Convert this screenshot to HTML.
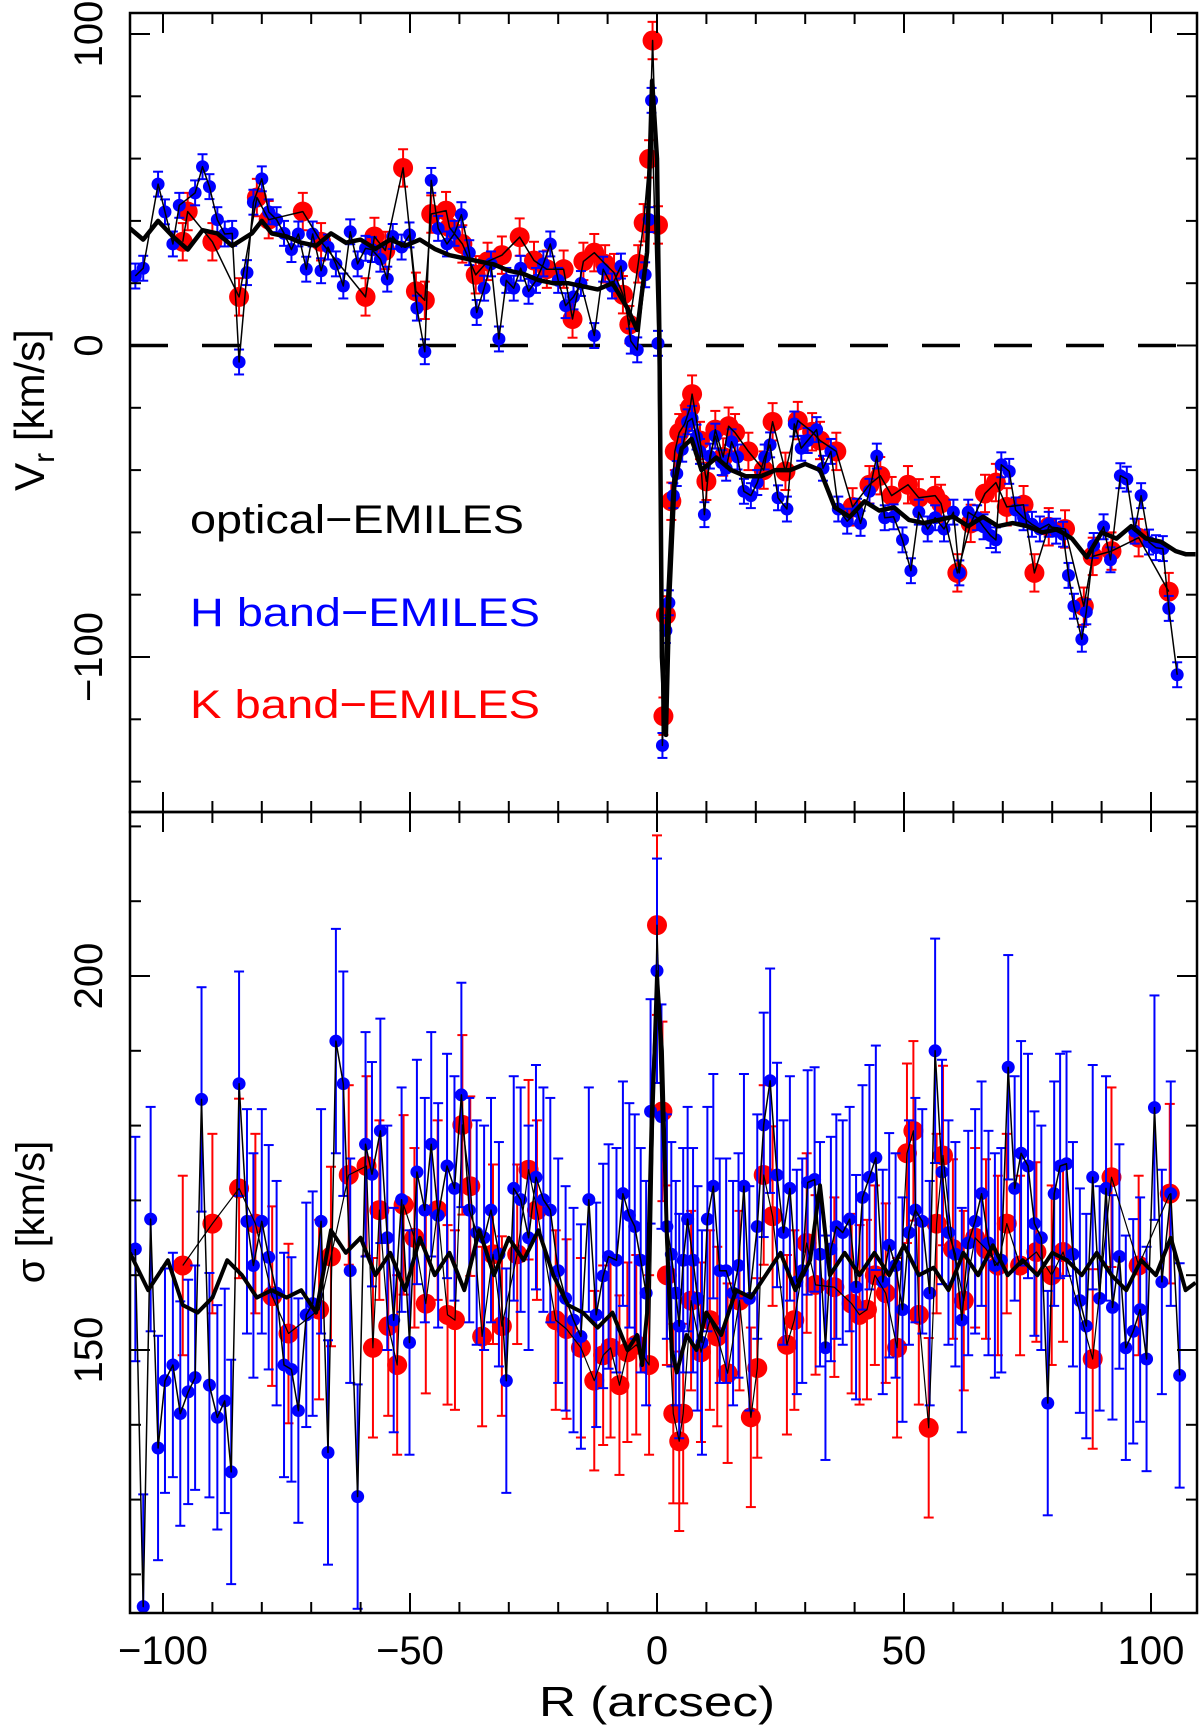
<!DOCTYPE html>
<html><head><meta charset="utf-8"><style>
html,body{margin:0;padding:0;background:#fff;}
svg{display:block;font-family:"Liberation Sans",sans-serif;}
</style></head><body>
<svg id="chart" width="1200" height="1728" viewBox="0 0 1200 1728" xmlns="http://www.w3.org/2000/svg">
<defs>
<clipPath id="clipTop"><rect x="130" y="13" width="1067" height="799"/></clipPath>
<clipPath id="clipBot"><rect x="130" y="812" width="1067" height="801"/></clipPath>
</defs>
<g id="gtop" clip-path="url(#clipTop)"></g>
<g id="gbot" clip-path="url(#clipBot)"></g>
<g id="axes"></g>
<text x="190" y="533" font-size="40" fill="#000" textLength="334" lengthAdjust="spacingAndGlyphs">optical−EMILES</text>
<text x="190" y="626" font-size="40" fill="#0000ff" textLength="350" lengthAdjust="spacingAndGlyphs">H band−EMILES</text>
<text x="190" y="718" font-size="40" fill="#ff0000" textLength="350" lengthAdjust="spacingAndGlyphs">K band−EMILES</text>
<text x="657" y="1716" font-size="42" text-anchor="middle" textLength="236" lengthAdjust="spacingAndGlyphs">R (arcsec)</text>
<text transform="translate(44,410) rotate(-90)" font-size="42" text-anchor="middle">V<tspan font-size="30" dy="10">r</tspan><tspan dy="-10"> [km/s]</tspan></text>
<text transform="translate(44,1212) rotate(-90)" font-size="40" text-anchor="middle">σ [km/s]</text>
</svg>
<script>
// ---- data (R in arcsec) ----
const hR_V=[-105.6,-104,-101,-99.6,-98,-96.7,-93.5,-92,-90.6,-89,-87.5,-86,-84.6,-83,-81.7,-80,-78.6,-77,-75.5,-74,-72.6,-71,-69.7,-68,-66.6,-65,-63.5,-62.1,-60.6,-59,-57.7,-56,-54.6,-53.5,-51.7,-50.1,-48.6,-47,-45.7,-44.3,-42.5,-41,-39.6,-38,-36.5,-35,-33.6,-32,-30.5,-29,-27.6,-26,-24.5,-23,-21.6,-20,-18.5,-16.9,-15.4,-12.7,-10.9,-9.1,-7.3,-5.3,-4,-2.4,-1.6,-1.1,0.2,1.1,1.8,2.4,3.3,4,5.1,6.2,7.1,8,8.7,9.6,10.7,11.8,13.1,14,15.1,16.3,17.6,19,20.3,21.8,22.9,24.5,26.3,27.8,29.2,30.5,32.3,33.6,35.2,36.7,38.5,40.5,41.2,43,44.5,46.1,47.9,49.7,51.4,53,54.8,56.3,58.1,60,61.2,63,64.8,66.1,67.5,68.6,69.7,71.3,72.6,74.2,75.9,77.5,79.3,80.8,82.2,83.3,84.4,86,86.9,88.4,90.4,91.8,93.8,95.1,96.7,98,99.6,101,102.4,103.6,105.3];
const hV=[22.3,24.8,51.8,42.9,32.6,45,49,57.4,51,40.4,35.8,36,-5.3,23.4,46,53.5,42.9,40.4,36,30.8,35.8,24.5,35.8,24,31.6,26.2,19.1,36.5,26.2,31.2,30.8,27.7,21.3,35,31.6,35.5,12,-2,53,37.6,32.6,36,42,29.8,10.6,18.4,26.2,2.1,20.9,18.4,24.8,17.4,20.9,26.2,32.6,20.9,12.8,15.6,19.9,3.2,24.5,19.1,25.5,1.4,-1.4,22.7,40.4,78.7,0.7,-128.4,-91.5,-82.6,-48.2,-41.1,-33.3,-24.5,-23.4,-29.4,-34,-54.3,-35.5,-29.1,-37.6,-39.4,-30.9,-35.8,-46.8,-48.2,-44,-35.8,-31.9,-48.9,-52.5,-25.2,-33,-30.5,-27,-39.4,-34,-52.5,-56.4,-53.2,-57.1,-46.8,-35.5,-55.3,-55,-62.4,-72.3,-53.5,-58.9,-55.3,-58.9,-53.5,-73,-53.5,-55.3,-58.2,-61,-62.4,-38.3,-40.4,-52.8,-55.3,-57.4,-58.9,-57.4,-59.6,-60.6,-73.8,-83.7,-94.3,-85.5,-64.2,-58.2,-68.8,-41.8,-42.9,-59.6,-48.2,-63.1,-64.9,-65.2,-84.4,-105.7];
const kR_V=[-96,-95,-90,-84.6,-81,-78.6,-71.7,-68,-59,-57.2,-55,-51.4,-48.8,-47,-45.7,-42.7,-42,-39.4,-36.7,-34.3,-31.4,-27.8,-24.9,-22.3,-18.9,-17.1,-14.9,-12.7,-10.5,-8.7,-6.9,-5.6,-3.8,-2.7,-1.6,-0.9,0.2,1.3,1.8,2.9,3.6,4.5,5.6,6.7,7.1,8.7,10,11.8,13.4,14.5,15.8,18.5,21.6,23.4,26,28.5,31.4,33,36.3,39.6,43,45.2,47.5,50.8,53,56.3,57.5,60.8,63.5,66.4,68.6,70.8,74.2,76.4,79.3,82.6,86.4,88.2,92,97.5,103.6];
const kV=[33.3,43,33.3,15.6,47.5,40.4,43,33.3,15.6,35,30.5,57,17.4,14.5,42.2,43.3,37.9,32.6,22.7,27,29,34.8,27.3,24.5,24.5,8.5,27,29.8,26.2,23.4,16.3,6.7,26.2,39.4,59.9,97.9,38.7,-119,-86.5,-50,-34,-28,-25.2,-19.9,-15.6,-30.5,-43.6,-27,-35.8,-25.9,-28,-34,-40,-24.5,-40.4,-24.1,-27.7,-30.5,-34,-51.8,-44.7,-41.8,-48.2,-44.7,-48.9,-48.2,-50.7,-73,-57.1,-47.5,-44,-51.8,-51.1,-73,-58.2,-58.9,-83.7,-67.7,-66,-61.7,-79];
const oR_V=[-106.7,-104,-101,-98,-95,-92,-89,-86,-84,-82,-80,-78,-75,-72,-69,-66,-63,-60,-57,-54,-51,-48,-45,-42,-39,-36,-33,-30,-27,-24,-21,-18,-15,-12,-9,-6,-4,-2,-1,0,0.5,1,1.8,2.5,3.5,5,7,9,12,15,18,21,24,27,30,33,36,39,42,45,48,51,54,57,60,63,66,69,72,75,78,81,84,87,90,93,96,99,102,105,107,109];
const oV=[37.6,34,40,35,30.8,37,36,32,34,36,40,36,35,33,32,36,33,34,31,34,32,34,31,29,28,27,26,24,23,21,20,20,19,18,20,12,5,30,85,60,0,-100,-125,-80,-45,-33,-30,-40,-36,-40,-42,-42,-40,-40,-38,-40,-52,-55,-50,-53,-52,-56,-57,-56,-55,-58,-55,-58,-57,-58,-60,-59,-62,-68,-60,-62,-58,-62,-63,-66,-67,-67];
const errHV=[4];const errKV=[6];
const hR_S=[-105.6,-104,-102.5,-101,-99.6,-98,-96.5,-94.9,-93.5,-92.2,-90.6,-89,-87.5,-86.2,-84.6,-83,-81.7,-80,-78.6,-77,-75.5,-74,-72.6,-71,-69.7,-68,-66.6,-65,-63.5,-62.1,-60.6,-59,-57.7,-56,-54.6,-53.3,-51.7,-50.1,-48.6,-47,-45.7,-44.3,-42.5,-41,-39.6,-38,-36.5,-35,-33.6,-32,-30.5,-29,-27.6,-26,-24.5,-23,-21.6,-20,-18.5,-16.9,-15.4,-13.8,-12.3,-10.9,-9.8,-8.2,-6.9,-5.6,-4.5,-3.3,-2.2,-1.3,0,0.9,2,2.9,3.8,4.5,5.3,6.2,7.3,8.2,9.1,10.2,11.4,12.7,14,15.4,16.5,17.6,18.7,20.3,21.6,22.9,24.3,25.6,26.9,28.3,29.4,30.5,31.9,33,34.1,35.2,36.3,37.6,39,40.3,41.6,43,44.3,45.7,47,48.3,49.7,51,52.3,53.7,55.2,56.3,57.7,59,60.4,61.7,63,64.4,65.7,67.1,68.4,69.7,71.1,72.4,73.7,75.1,76.4,77.8,79.1,80.4,81.6,82.9,84.2,85.6,86.9,88.2,89.6,90.9,92.2,93.6,94.9,96.4,97.8,99.1,100.7,102.2,104,105.8];
const hS=[163.5,115.7,167.5,136.9,145.9,148,141.5,144.4,146.3,183.5,145.3,141,143.2,133.7,185.6,167.2,161.3,167.2,162.4,157.6,148,147.4,141.9,154.7,156.2,167.2,136.3,191.3,185.6,160.6,130.4,177.5,173.5,179.3,165,154,170.1,151,173.8,168.7,177.5,168,174.6,171.6,184.1,168.7,165.7,165,168.7,162.8,145.9,171.6,170.1,165,173.1,170.1,168.7,160.6,156.9,154,151.8,170.1,154.7,159.9,162.5,162,170.9,168,166.5,162,157.6,181.9,200.7,181.2,166.5,162.8,157.6,153.2,162,167.5,162,156.9,151,167.5,171.9,160.6,160.6,157.6,161.3,171.9,156.9,166.5,180.1,186,173.4,165.7,171.6,159.1,160.6,172.4,172.8,162.8,150.3,163.5,166.5,165.7,167.5,158.4,170.4,173.1,175.7,159.1,164,161.3,155.4,165.7,168.7,167.2,157.6,190,173.8,165.7,162.8,154,164.3,167.2,170.9,164.3,161.3,162,187.8,171.6,176.3,174.6,166.9,165,142.9,170.9,174.6,174.9,162.8,156.6,153.2,173.1,156.9,171.6,155.7,162.5,150.3,152.5,155.4,148.8,182.4,159.1,170.9,146.6];
const kR_S=[-96,-90,-84.6,-81.3,-77.9,-74.6,-68.4,-66,-62.4,-58.8,-57.5,-56.2,-54.4,-52.6,-51.3,-49.1,-46.8,-44.4,-42.4,-40.9,-39.4,-37.8,-35.4,-33.2,-31.4,-28.3,-26,-24.3,-20.5,-18.3,-15.4,-12.7,-10.9,-9.4,-7.6,-6,-4.2,-1.6,0,1.1,2,3.3,4.5,5.3,6.9,8.9,10.7,12.2,14.3,16.7,19,20.3,21.6,23.4,26.3,27.8,30.3,32.1,35.9,39.4,41,42.5,44.1,46.3,48.6,50.6,51.9,53,55,56.6,57.9,59.9,62.1,64.4,66.6,69,70.8,73.5,76.8,79.9,82.2,88.2,92,97.5,103.8];
const kS=[161.3,166.9,171.6,166.9,157.2,152.2,155.4,162.5,173.4,174.6,150.3,168.7,153.2,148,169.4,165,156.2,168.7,154.7,154,180.1,171.9,151.8,162.8,153.2,162.8,174.1,168.7,154,152.8,150.3,145.9,149.3,150.3,145.3,149.7,150.7,148,206.8,181.9,160,141.5,137.8,141.5,156.6,149.7,154,151.8,146.9,156.6,141,147.6,173.4,167.9,150.7,154,164.3,158.7,158.4,156.2,154.7,155.4,160,157.6,150.3,176.3,179.3,154.7,139.6,166.9,176,163.5,156.6,165,163.5,161.3,166.9,161.3,163.1,160,163.1,148.8,173.1,161.3,170.9];
const oR_S=[-106.7,-103,-99,-96,-93,-90,-87,-84,-81,-78,-75,-72,-69,-66,-63,-60,-57,-54,-51,-48,-45,-42,-39,-36,-33,-30,-27,-24,-21,-18,-15,-12,-9,-6,-4,-3,-2,-1,0,1,2,3,4,6,8,10,13,16,19,22,25,28,31,33,35,38,41,44,47,50,53,56,59,62,65,68,71,74,77,80,83,86,89,92,95,98,101,104,107,109];
const oS=[163,158,162,156,155,157,162,160,157,158,157,158,155,166,163,165,160,163,158,165,160,163,158,166,160,165,162,166,160,156,155,153,155,150,152,148,155,180,200,190,165,150,147,152,150,155,152,158,157,160,163,158,162,172,160,163,160,163,160,164,160,161,158,163,160,164,160,162,160,163,162,160,163,160,158,162,160,165,158,159];
const errHS=[15];const errKS=[12];
const xTicks=[-100,-50,0,50,100];
const vTicks=[-100,0,100];
const sTicks=[150,200];

// ---- scales ----
const X=r=>657+r*4.94;
const YV=v=>345.5-v*3.115;
const YS=s=>976-(s-200)*7.48;
const NS="http://www.w3.org/2000/svg";
function mk(tag,attrs,parent){const e=document.createElementNS(NS,tag);for(const k in attrs)e.setAttribute(k,attrs[k]);parent.appendChild(e);return e;}
const gTop=document.getElementById('gtop'),gBot=document.getElementById('gbot'),gAxes=document.getElementById('axes');

function drawSeries(g,R,V,err,Y,color,rad,name){
  const eg=mk('g',{},g);
  
  
  R.forEach((r,i)=>{
    const x=X(r),y1=Y(V[i]-err[0]),y2=Y(V[i]+err[0]);
    mk('line',{x1:x,x2:x,y1:y1,y2:y2,stroke:color,'stroke-width':2},eg);
    mk('line',{x1:x-5,x2:x+5,y1:y1,y2:y1,stroke:color,'stroke-width':2},eg);
    mk('line',{x1:x-5,x2:x+5,y1:y2,y2:y2,stroke:color,'stroke-width':2},eg);
  });
  const pg=mk('g',{},g);
  
  
  R.forEach((r,i)=>{
    const c=mk('circle',{cx:X(r),cy:Y(V[i]),r:rad,fill:color},pg);
    
    
  });
}
function drawLine(g,R,V,Y,w,name){
  const p=mk('path',{d:R.map((r,i)=>(i?'L':'M')+X(r).toFixed(1)+','+Y(V[i]).toFixed(1)).join(''),fill:'none',stroke:'#000','stroke-width':w,'stroke-linejoin':'round'},g);
  
  
}
const zl=mk('line',{x1:130,x2:1197,y1:YV(0),y2:YV(0),stroke:'#000','stroke-width':3.5,'stroke-dasharray':'38 34'},gTop);


drawSeries(gTop,kR_V,kV,errKV,YV,'#ff0000',10,'k-band-velocity');
drawSeries(gTop,hR_V,hV,errHV,YV,'#0000ff',6.5,'h-band-velocity');
drawLine(gTop,kR_V,kV,YV,1.5,'k-band-velocity-line');
drawLine(gTop,hR_V,hV,YV,1.5,'h-band-velocity-line');
drawLine(gTop,oR_V,oV,YV,4.5,'optical-velocity-line');
drawSeries(gBot,kR_S,kS,errKS,YS,'#ff0000',10,'k-band-sigma');
drawSeries(gBot,hR_S,hS,errHS,YS,'#0000ff',6.5,'h-band-sigma');
drawLine(gBot,kR_S,kS,YS,1.2,'k-band-sigma-line');
drawLine(gBot,hR_S,hS,YS,1.5,'h-band-sigma-line');
drawLine(gBot,oR_S,oS,YS,4,'optical-sigma-line');

[[13,812],[812,1613]].forEach(([t,b],k)=>{
  const f=mk('rect',{x:130,y:t,width:1067,height:b-t,fill:'none',stroke:'#000','stroke-width':2.5},gAxes);
  
  
  for(let r=-100;r<=100;r+=10){
    const L=(r%50===0)?20:11,x=X(r);
    mk('line',{x1:x,x2:x,y1:b,y2:b-L,stroke:'#000','stroke-width':2},gAxes);
    mk('line',{x1:x,x2:x,y1:t,y2:t+L,stroke:'#000','stroke-width':2},gAxes);
  }
});
for(let v=-140;v<=100;v+=20){const L=(v%100===0)?20:11,y=YV(v);
  mk('line',{x1:130,x2:130+L,y1:y,y2:y,stroke:'#000','stroke-width':2},gAxes);
  mk('line',{x1:1197,x2:1197-L,y1:y,y2:y,stroke:'#000','stroke-width':2},gAxes);}
for(let s=120;s<=220;s+=10){const L=(s%50===0)?20:11,y=YS(s);
  mk('line',{x1:130,x2:130+L,y1:y,y2:y,stroke:'#000','stroke-width':2},gAxes);
  mk('line',{x1:1197,x2:1197-L,y1:y,y2:y,stroke:'#000','stroke-width':2},gAxes);}
xTicks.forEach(r=>{const t=mk('text',{x:X(r),y:1664,'font-size':40,'text-anchor':'middle'},gAxes);t.textContent=(r<0?'−':'')+Math.abs(r);
  
  });
vTicks.forEach(v=>{const t=mk('text',{transform:`translate(102,${YV(v)}) rotate(-90)`,'font-size':40,'text-anchor':'middle'},gAxes);t.textContent=(v<0?'−':'')+Math.abs(v);
  
  });
sTicks.forEach(s=>{const t=mk('text',{transform:`translate(102,${YS(s)}) rotate(-90)`,'font-size':40,'text-anchor':'middle'},gAxes);t.textContent=s;
  
  });
</script>
</body></html>
